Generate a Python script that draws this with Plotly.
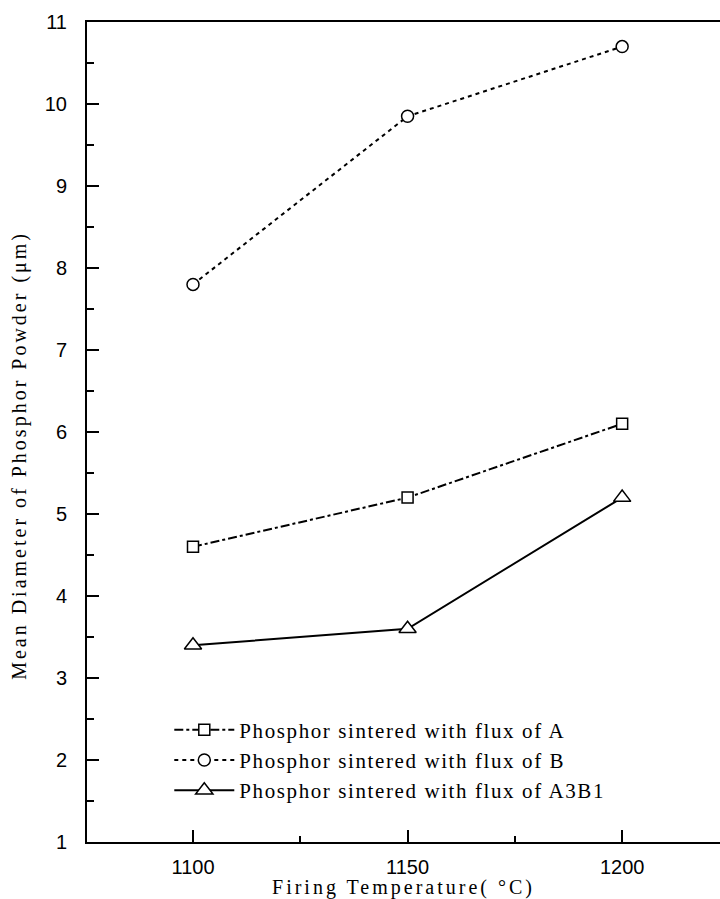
import plotly.graph_objects as go

temps = [1100, 1150, 1200]
flux_a = [4.6, 5.2, 6.1]
flux_b = [7.8, 9.85, 10.7]
flux_a3b1 = [3.4, 3.6, 5.2]

names = [
    "Phosphor sintered with flux of A",
    "Phosphor sintered with flux of B",
    "Phosphor sintered with flux of A3B1",
]
x_title = "Firing Temperature( °C)"
y_title = "Mean Diameter of Phosphor Powder (μm)"

SERIF = "Liberation Serif, Times New Roman, serif"
SANS = "Liberation Sans, Arial, sans-serif"

def spaced(t, sp=2.5):
    return f"<span style='letter-spacing:{sp}px'>{t}</span>"

fig = go.Figure()
styles = [
    (flux_a, "square", "dashdot", 11),
    (flux_b, "circle", "4px,4px", 12),
    (flux_a3b1, "triangle-up", "solid", 15),
]
for (vals, sym, dash, ms), name in zip(styles, names):
    fig.add_trace(go.Scatter(
        x=temps, y=vals, mode="lines+markers", name=spaced(name, 1.6),
        line=dict(color="black", width=2, dash=dash),
        marker=dict(symbol=sym, size=ms, color="white", line=dict(width=1.5, color="black")),
    ))

fig.update_layout(
    width=720, height=899,
    margin=dict(l=87, r=0, t=22, b=57),
    plot_bgcolor="white", paper_bgcolor="white",
    showlegend=True,
    legend=dict(
        x=0.13, y=0.10, xanchor="left", yanchor="middle",
        bgcolor="rgba(0,0,0,0)", font=dict(family=SERIF, size=21, color="black"),
        itemwidth=60, tracegroupgap=0, traceorder="normal",
    ),
    font=dict(color="black"),
    annotations=[dict(
        text=spaced(y_title, 3), textangle=-90, showarrow=False,
        xref="paper", yref="paper", x=-0.106, y=0.472, xanchor="center", yanchor="middle",
        font=dict(family=SERIF, size=20, color="black"),
    )],
)
fig.update_xaxes(
    range=[1075.3, 1222.8], tickvals=temps,
    ticks="inside", ticklen=12, tickwidth=2, tickcolor="black",
    minor=dict(tickvals=[1125, 1175], ticks="inside", ticklen=6, tickwidth=2, tickcolor="black"),
    showline=True, linewidth=2, linecolor="black", mirror=True,
    showgrid=False, zeroline=False,
    tickfont=dict(family=SANS, size=20, color="black"),
    ticklabelstandoff=6,
    title=dict(text=spaced(x_title, 3), font=dict(family=SERIF, size=20, color="black"), standoff=2),
)
fig.update_yaxes(
    range=[1, 11], dtick=1,
    ticks="inside", ticklen=12, tickwidth=2, tickcolor="black",
    minor=dict(dtick=0.5, ticks="inside", ticklen=7, tickwidth=2, tickcolor="black"),
    showline=True, linewidth=2, linecolor="black", mirror=False,
    showgrid=False, zeroline=False,
    tickfont=dict(family=SANS, size=20, color="black"),
    ticklabelstandoff=14,
)

fig.write_html("out.html")
